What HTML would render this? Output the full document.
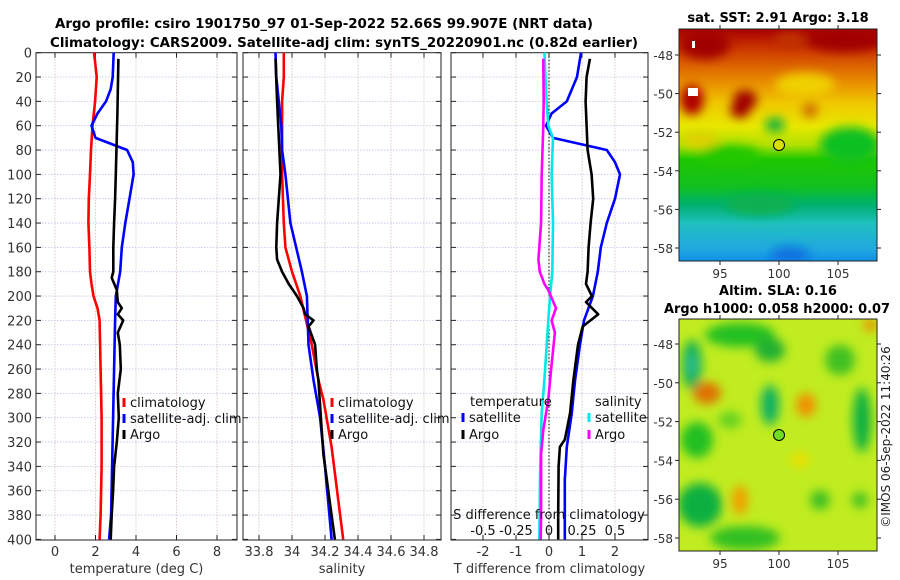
<!DOCTYPE html>
<html><head><meta charset="utf-8"><style>
html,body{margin:0;padding:0;background:#fff}
svg{display:block;font-family:"DejaVu Sans","Liberation Sans",sans-serif}
</style></head><body>
<svg id="fig" width="900" height="580" viewBox="0 0 900 580" xmlns="http://www.w3.org/2000/svg">
<defs>
<linearGradient id="sstg" x1="0" y1="0" x2="0" y2="1">
<stop offset="0" stop-color="#a80000"/><stop offset="0.1" stop-color="#d04000"/>
<stop offset="0.22" stop-color="#e88800"/><stop offset="0.32" stop-color="#f0c800"/>
<stop offset="0.42" stop-color="#e8e800"/><stop offset="0.5" stop-color="#b0e000"/>
<stop offset="0.56" stop-color="#20c800"/><stop offset="0.68" stop-color="#10c020"/>
<stop offset="0.76" stop-color="#00b070"/><stop offset="0.84" stop-color="#20c0c0"/>
<stop offset="0.95" stop-color="#20a8e0"/><stop offset="1" stop-color="#1090e8"/>
</linearGradient>
<filter id="blur"><feGaussianBlur stdDeviation="5"/></filter>
<clipPath id="cm1"><rect x="679" y="29" width="198" height="232"/></clipPath>
<clipPath id="cm2"><rect x="679" y="319" width="198" height="232"/></clipPath>
</defs>
<g id="titles" font-weight="bold" font-size="13.5" fill="#000">
<text x="55" y="28" textLength="538" lengthAdjust="spacingAndGlyphs">Argo profile: csiro 1901750_97 01-Sep-2022 52.66S 99.907E (NRT data)</text>
<text x="50" y="47" textLength="588" lengthAdjust="spacingAndGlyphs">Climatology: CARS2009. Satellite-adj clim: synTS_20220901.nc (0.82d earlier)</text>
</g>
<g id="panels"></g>
<g id="maps">
<g clip-path="url(#cm1)">
<rect x="679" y="29" width="198" height="232" fill="url(#sstg)"/>
<g filter="url(#blur)">
<ellipse cx="705" cy="45" rx="25" ry="14" fill="#a00000"/>
<ellipse cx="740" cy="110" rx="10" ry="8" fill="#a00000"/>
<ellipse cx="745" cy="100" rx="12" ry="10" fill="#a00000"/>
<ellipse cx="692" cy="100" rx="12" ry="15" fill="#b00000"/>
<ellipse cx="845" cy="40" rx="40" ry="12" fill="#a00000"/>
<ellipse cx="790" cy="40" rx="15" ry="8" fill="#c03000"/>
<ellipse cx="805" cy="85" rx="30" ry="12" fill="#f0d000"/>
<ellipse cx="775" cy="125" rx="10" ry="7" fill="#10b040"/>
<ellipse cx="850" cy="145" rx="30" ry="18" fill="#10c020"/>
<ellipse cx="730" cy="155" rx="30" ry="10" fill="#20c800"/>
<ellipse cx="810" cy="110" rx="8" ry="8" fill="#d07000"/>
<ellipse cx="760" cy="205" rx="35" ry="10" fill="#10b050"/>
<ellipse cx="700" cy="140" rx="18" ry="8" fill="#e0d000"/>
<ellipse cx="790" cy="255" rx="20" ry="8" fill="#1070e0"/>
</g>
<rect x="688" y="88" width="10" height="8" fill="#fff"/>
<rect x="692" y="41" width="3" height="7" fill="#fff"/>
</g>
<rect x="679" y="29" width="198" height="232" fill="none" stroke="#222" stroke-width="1"/>
<circle cx="779" cy="145" r="5.5" fill="#d8e000" stroke="#000" stroke-width="1"/>
<g clip-path="url(#cm2)">
<rect x="679" y="319" width="198" height="232" fill="#c0ec20"/>
<g filter="url(#blur)">
<ellipse cx="692" cy="365" rx="10" ry="25" fill="#10b050"/>
<ellipse cx="692" cy="365" rx="4" ry="12" fill="#30c0a0"/>
<ellipse cx="740" cy="335" rx="35" ry="12" fill="#20c020"/>
<ellipse cx="770" cy="350" rx="15" ry="12" fill="#20b030"/>
<ellipse cx="707" cy="393" rx="14" ry="11" fill="#e07000"/>
<ellipse cx="770" cy="405" rx="9" ry="20" fill="#10b060"/>
<ellipse cx="806" cy="405" rx="10" ry="12" fill="#f09000"/>
<ellipse cx="862" cy="420" rx="9" ry="32" fill="#10b040"/>
<ellipse cx="697" cy="440" rx="16" ry="18" fill="#20c020"/>
<ellipse cx="700" cy="505" rx="22" ry="22" fill="#10b040"/>
<ellipse cx="740" cy="500" rx="8" ry="15" fill="#f0a000"/>
<ellipse cx="745" cy="538" rx="35" ry="12" fill="#30c020"/>
<ellipse cx="840" cy="360" rx="15" ry="15" fill="#40c020"/>
<ellipse cx="820" cy="500" rx="10" ry="10" fill="#40c020"/>
<ellipse cx="860" cy="500" rx="8" ry="8" fill="#40c020"/>
<ellipse cx="870" cy="325" rx="6" ry="6" fill="#f08000"/>
<ellipse cx="730" cy="420" rx="12" ry="8" fill="#60d020"/>
<ellipse cx="800" cy="460" rx="10" ry="8" fill="#e8e000"/>
</g>
</g>
<rect x="679" y="319" width="198" height="232" fill="none" stroke="#222" stroke-width="1"/>
<circle cx="779" cy="435" r="5.5" fill="#70dd20" stroke="#000" stroke-width="1"/>
<g font-weight="bold" font-size="13" fill="#000" text-anchor="middle">
<text x="778" y="22">sat. SST: 2.91 Argo: 3.18</text>
<text x="778" y="295">Altim. SLA: 0.16</text>
<text x="777" y="313" textLength="226" lengthAdjust="spacingAndGlyphs">Argo h1000: 0.058 h2000: 0.07</text>
</g>
<text transform="translate(890,437) rotate(-90)" text-anchor="middle" font-size="12" fill="#222">©IMOS 06-Sep-2022 11:40:26</text>
</g>
</svg>
<script>
// ---------- data ----------
const tickDepths = [0,20,40,60,80,100,120,140,160,180,200,220,240,260,280,300,320,340,360,380,400];
const tempTicks = [0,2,4,6,8];
const salTicks = [33.8,34,34.2,34.4,34.6,34.8];
const salTickLabels = ["33.8","34","34.2","34.4","34.6","34.8"];
const tdiffTicks = [-2,-1,0,1,2];
const sdiffTicks = [-0.5,-0.25,0,0.25,0.5];

const climTDepth = [0,20,40,60,80,100,120,140,160,180,190,200,210,220,260,300,340,380,400];
const climT = [1.93,2.06,1.98,1.85,1.78,1.73,1.67,1.65,1.70,1.73,1.8,1.9,2.1,2.2,2.25,2.3,2.3,2.25,2.2];
const satTDepth = [0,20,30,40,50,60,70,80,90,100,120,140,160,180,200,220,260,300,340,380,400];
const satT = [2.9,2.85,2.75,2.52,2.1,1.8,2.0,3.56,3.84,3.88,3.68,3.47,3.3,3.22,3.0,2.97,2.92,2.87,2.82,2.77,2.67];
const argoTDepth = [5,50,100,120,140,160,180,185,195,205,210,215,220,230,240,260,280,300,320,340,360,380,400];
const argoT = [3.13,3.08,3.0,2.97,2.92,2.88,2.88,2.8,3.05,3.1,3.3,3.1,3.37,3.1,3.2,3.25,3.1,3.15,3.05,2.92,2.87,2.8,2.75];

const climSDepth = [0,20,40,60,100,140,160,180,200,240,269,285,324,400];
const climS = [33.95,33.95,33.94,33.94,33.94,33.95,33.96,34.0,34.05,34.12,34.16,34.19,34.24,34.31];
const satSDepth = [0,20,40,60,80,100,140,180,200,240,269,300,340,400];
const satS = [33.90,33.905,33.92,33.935,33.94,33.96,33.99,34.06,34.09,34.10,34.13,34.17,34.2,34.24];
const argoSDepth = [5,40,100,140,160,170,180,190,200,210,215,220,225,240,260,269,290,310,330,350,370,400];
const argoS = [33.90,33.91,33.93,33.91,33.905,33.91,33.94,33.98,34.03,34.07,34.08,34.13,34.10,34.14,34.15,34.16,34.17,34.18,34.19,34.21,34.23,34.26];

const satTdDepth = [0,20,40,50,60,70,80,90,100,120,140,160,180,200,220,240,269,296,324,351,400];
const satTd = [0.97,0.85,0.54,0.08,-0.09,0.12,1.75,2.0,2.15,2.0,1.75,1.57,1.48,1.33,1.06,0.94,0.79,0.69,0.54,0.48,0.48];
const argoTdDepth = [5,20,40,60,80,100,120,140,160,180,190,200,205,215,225,240,269,296,310,318,324,340,380,400];
const argoTd = [1.24,1.14,1.11,1.14,1.17,1.29,1.34,1.26,1.2,1.17,1.12,1.3,1.12,1.49,1.02,0.88,0.74,0.64,0.54,0.48,0.33,0.29,0.28,0.28];
const satSdDepth = [0,40,60,70,100,140,180,200,220,269,296,324,351,400];
const satSd = [-0.035,-0.018,-0.005,0.03,0.02,0.03,0.025,0.008,-0.005,-0.035,-0.055,-0.063,-0.068,-0.073];
const argoSdDepth = [5,40,60,100,140,170,180,190,195,210,220,230,245,269,285,296,310,330,351,380,400];
const argoSd = [-0.043,-0.04,-0.043,-0.055,-0.06,-0.08,-0.07,-0.035,-0.005,0.053,0.02,0.045,0.03,0.008,-0.005,-0.022,-0.043,-0.06,-0.06,-0.06,-0.063];

const mapLons = [95,100,105];
const mapLats = [-48,-50,-52,-54,-56,-58];

// ---------- geometry ----------
const NS = "http://www.w3.org/2000/svg";
const top0 = 52.7, bot = 540;
const yD = d => top0 + d * (486.7/400);
const P1 = {x0:36, x1:237, f:v => 55 + v*20.25};
const P2 = {x0:243, x1:441, f:v => 259 + (v-33.8)*165};
const P3 = {x0:451, x1:648, f:v => 549 + v*33};
const sdX = v => 549 + v*132;
const root = document.getElementById('panels');

function mk(tag, attrs, parent){
  const e = document.createElementNS(NS, tag);
  for (const k in attrs) e.setAttribute(k, attrs[k]);
  (parent||root).appendChild(e);
  return e;
}
function txt(x,y,s,attrs,parent){
  const e = mk('text', Object.assign({x:x,y:y},attrs||{}), parent);
  e.textContent = s;
  return e;
}
function panel(P, ticks, labels, xlabel, name, leftLabels){
  const g = mk('g', {});
  
  
  tickDepths.forEach(d => {
    if (d>0 && d<400) mk('line',{x1:P.x0,x2:P.x1,y1:yD(d),y2:yD(d),stroke:'#b8c4e8','stroke-width':0.8,'stroke-dasharray':'1.5,1.5'},g);
    mk('line',{x1:P.x0,x2:P.x0+5,y1:yD(d),y2:yD(d),stroke:'#222','stroke-width':1},g);
    mk('line',{x1:P.x1-5,x2:P.x1,y1:yD(d),y2:yD(d),stroke:'#222','stroke-width':1},g);
    if (leftLabels) txt(P.x0-4, yD(d)+5, String(d), {'text-anchor':'end','font-size':13,fill:'#333'}, g);
  });
  ticks.forEach((t,i) => {
    const x = P.f(t);
    mk('line',{x1:x,x2:x,y1:top0,y2:bot,stroke:'#d8b8b8','stroke-width':0.8,'stroke-dasharray':'1.5,1.5'},g);
    mk('line',{x1:x,x2:x,y1:bot,y2:bot-5,stroke:'#222'},g);
    mk('line',{x1:x,x2:x,y1:top0,y2:top0+5,stroke:'#222'},g);
    txt(x, 556, labels[i], {'text-anchor':'middle','font-size':13,fill:'#333'}, g);
  });
  mk('rect',{x:P.x0,y:top0,width:P.x1-P.x0,height:bot-top0,fill:'none',stroke:'#222','stroke-width':1},g);
  txt((P.x0+P.x1)/2, 573, xlabel, {'text-anchor':'middle','font-size':13,fill:'#333'}, g);
  return g;
}
function line(g, xs, ds, fx, color, name, w){
  const pts = xs.map((v,i) => fx(v).toFixed(1)+','+yD(ds[i]).toFixed(1)).join(' ');
  const p = mk('polyline',{points:pts,fill:'none',stroke:color,'stroke-width':w||2.6,'stroke-linejoin':'round'},g);
  
  
}
function legend(g, x, y, color, label){
  const e = mk('g',{},g);
  
  
  mk('line',{x1:x,x2:x,y1:y-9,y2:y,stroke:color,'stroke-width':3},e);
  txt(x+6, y, label, {'font-size':13,fill:'#111'}, e);
}

const g1 = panel(P1, tempTicks, tempTicks.map(String), 'temperature (deg C)', 'temperature-panel', true);
line(g1, climT, climTDepth, P1.f, '#ff0000', 'climatology-temperature-line');
line(g1, satT, satTDepth, P1.f, '#0000ff', 'satellite-temperature-line');
line(g1, argoT, argoTDepth, P1.f, '#000000', 'argo-temperature-line');
legend(g1, 124, 407, '#ff0000', 'climatology');
legend(g1, 124, 423, '#0000ff', 'satellite-adj. clim');
legend(g1, 124, 439, '#000000', 'Argo');

const g2 = panel(P2, salTicks, salTickLabels, 'salinity', 'salinity-panel', false);
line(g2, climS, climSDepth, P2.f, '#ff0000', 'climatology-salinity-line');
line(g2, satS, satSDepth, P2.f, '#0000ff', 'satellite-salinity-line');
line(g2, argoS, argoSDepth, P2.f, '#000000', 'argo-salinity-line');
legend(g2, 332, 407, '#ff0000', 'climatology');
legend(g2, 332, 423, '#0000ff', 'satellite-adj. clim');
legend(g2, 332, 439, '#000000', 'Argo');

const g3 = panel(P3, tdiffTicks, tdiffTicks.map(String), 'T difference from climatology', 'difference-panel', false);
const zl = mk('line',{x1:P3.f(0),x2:P3.f(0),y1:top0,y2:bot,stroke:'#000','stroke-width':1,'stroke-dasharray':'1.5,2'},g3);


line(g3, satTd, satTdDepth, P3.f, '#0000ff', 'satellite-t-diff-line');
line(g3, argoTd, argoTdDepth, P3.f, '#000000', 'argo-t-diff-line');
line(g3, satSd, satSdDepth, sdX, '#00e8e8', 'satellite-s-diff-line');
line(g3, argoSd, argoSdDepth, sdX, '#ff00ff', 'argo-s-diff-line');
txt(470, 406, 'temperature', {'font-size':13,fill:'#111'}, g3);
txt(595, 406, 'salinity', {'font-size':13,fill:'#111'}, g3);
legend(g3, 463, 422, '#0000ff', 'satellite');
legend(g3, 463, 439, '#000000', 'Argo');
legend(g3, 589, 422, '#00e8e8', 'satellite');
legend(g3, 589, 439, '#ff00ff', 'Argo');
const st = txt(549, 519, 'S difference from climatology', {'text-anchor':'middle','font-size':13,fill:'#111'}, g3);


sdiffTicks.forEach(t => {
  const e = txt(sdX(t), 535, String(t), {'text-anchor':'middle','font-size':13,fill:'#111'}, g3);
  
  
});

const mroot = document.getElementById('maps');
const lonX = v => 779 + (v-100)*11.8;
[[29,261,55,248],[319,551,344,538]].forEach((m,k) => {
  const latY = v => m[2] + (-48 - v)*(m[3]-m[2])/10;
  mapLats.forEach(l => {
    const y = latY(l);
    mk('line',{x1:679,x2:675,y1:y,y2:y,stroke:'#222'},mroot);
    mk('line',{x1:877,x2:881,y1:y,y2:y,stroke:'#222'},mroot);
    const e = txt(673, y+5, String(l), {'text-anchor':'end','font-size':12,fill:'#333'}, mroot);
    
    
  });
  mapLons.forEach(l => {
    const x = lonX(l);
    mk('line',{x1:x,x2:x,y1:m[1],y2:m[1]+4,stroke:'#222'},mroot);
    mk('line',{x1:x,x2:x,y1:m[0],y2:m[0]-4,stroke:'#222'},mroot);
    const e = txt(x, m[1]+17, String(l), {'text-anchor':'middle','font-size':12,fill:'#333'}, mroot);
    
    
  });
});
</script>
</body></html>
